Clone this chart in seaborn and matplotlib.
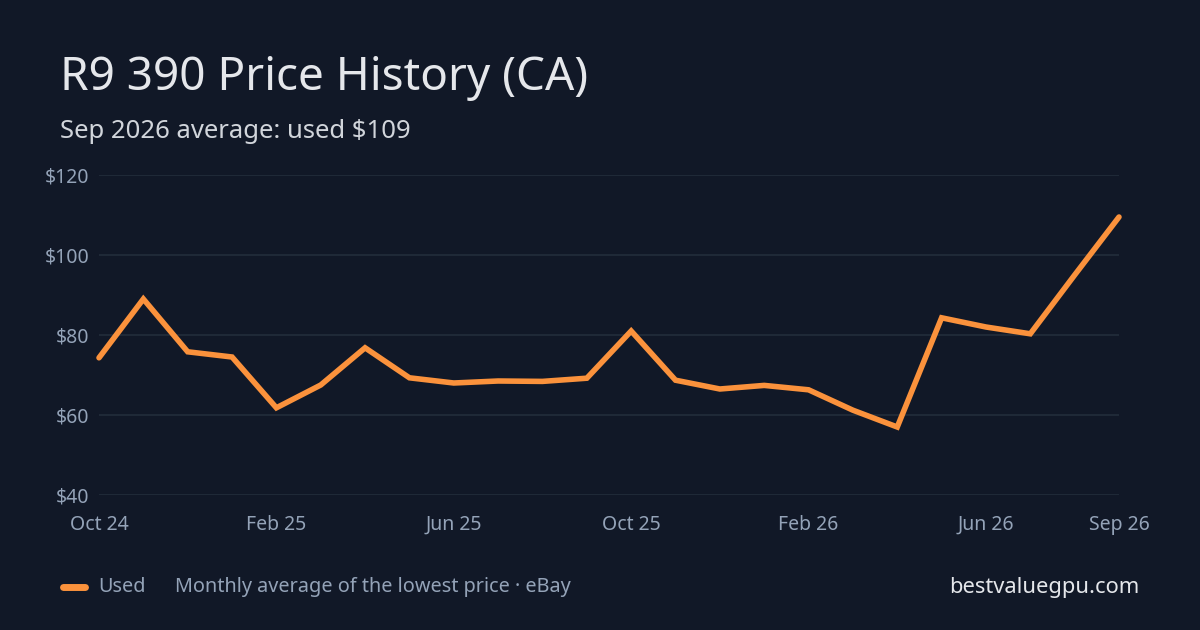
import matplotlib
matplotlib.use("Agg")
import matplotlib.pyplot as plt
import seaborn as sns
import pandas as pd

months = ["Oct 24", "Nov 24", "Dec 24", "Jan 25", "Feb 25", "Mar 25", "Apr 25", "May 25",
          "Jun 25", "Jul 25", "Aug 25", "Sep 25", "Oct 25", "Nov 25", "Dec 25", "Jan 26",
          "Feb 26", "Mar 26", "Apr 26", "May 26", "Jun 26", "Jul 26", "Aug 26", "Sep 26"]
used_prices = [74.3, 89.0, 75.8, 74.5, 61.8, 67.5, 76.8, 69.3,
               68.0, 68.5, 68.4, 69.2, 81.0, 68.7, 66.5, 67.4,
               66.3, 61.2, 57.0, 84.3, 82.0, 80.3, 95.0, 109.5]
tick_labels = ["Oct 24", "Feb 25", "Jun 25", "Oct 25", "Feb 26", "Jun 26", "Sep 26"]
y_ticks = [40, 60, 80, 100, 120]

BG = "#111827"
GRID = "#1f2937"
TICK = "#94a3b8"
ORANGE = "#fb923c"

sns.set_theme(style="dark")
plt.rcParams['font.family'] = ['Noto Sans', 'DejaVu Sans']

df = pd.DataFrame({"idx": range(len(months)), "month": months, "price": used_prices})

fig = plt.figure(figsize=(12, 6.3), dpi=100, facecolor=BG)
ax = fig.add_axes([99/1200, 1-495/630, (1119-99)/1200, (495-175)/630])
ax.set_facecolor(BG)

sns.lineplot(data=df, x="idx", y="price", ax=ax, color=ORANGE, linewidth=4,
             solid_capstyle="round", solid_joinstyle="miter", zorder=3, clip_on=False)

ax.set_xlim(0, len(months) - 1)
ax.set_ylim(40, 120)
ax.set_yticks(y_ticks)
ax.set_yticklabels([f"${v}" for v in y_ticks])
ax.set_xticks([months.index(t) for t in tick_labels])
ax.set_xticklabels(tick_labels, va="baseline")
ax.grid(axis="y", color=GRID, linewidth=1.5)
ax.grid(axis="x", visible=False)
for s in ax.spines.values():
    s.set_visible(False)
ax.tick_params(axis="both", length=0, colors=TICK, labelsize=14)
ax.tick_params(axis="y", pad=7)
ax.tick_params(axis="x", pad=25)
ax.set_xlabel("")
ax.set_ylabel("")

fig.text(60/1200, 1-78/630, "R9 390 Price History (CA)", color="#e5e7eb",
         fontsize=33, va="center", ha="left")
fig.text(60/1200, 1-132/630, "Sep 2026 average: used $109", color="#d1d5db",
         fontsize=18.5, va="center", ha="left")

# legend
fig.lines.append(plt.Line2D([63/1200, 85/1200], [1-587/630, 1-587/630], transform=fig.transFigure,
                            color=ORANGE, linewidth=5, solid_capstyle="round"))
fig.text(98/1200, 1-587/630, "Used", color=TICK, fontsize=14.3, va="center", ha="left")
fig.text(175/1200, 1-587/630, "Monthly average of the lowest price · eBay", color=TICK,
         fontsize=14.3, va="center", ha="left")
fig.text(1139/1200, 1-587/630, "bestvaluegpu.com", color="#e5e7eb",
         fontsize=15.8, va="center", ha="right")

fig.savefig("out.png", dpi=100, facecolor=BG)
